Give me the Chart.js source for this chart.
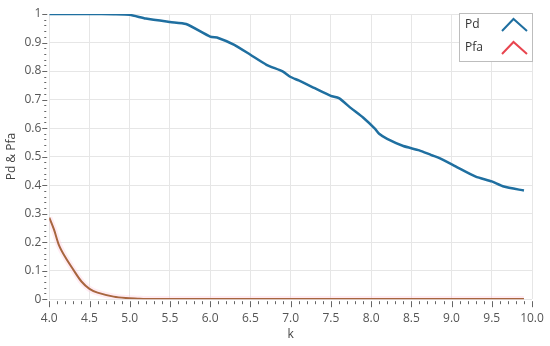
<!DOCTYPE html>
<html lang="en">
<head>
    <meta charset="UTF-8">
    <title>Pd & Pfa</title>
    <style type="text/css">
        body { margin: 0; background: #ffffff; }
        .wrap { width: 550px; height: 346px; }
    </style>
</head>
<body>
    <div class="wrap">
        <canvas id="myChart" width="550" height="346"></canvas>
    </div>

    <script src="https://cdn.jsdelivr.net/npm/chart.js"></script>
    <script>
        // values
        const pdK   = [4.0, 4.5, 4.8, 5.0, 5.2, 5.5, 5.7, 6.0, 6.1, 6.3, 6.5, 6.7, 6.9, 7.0, 7.1, 7.3, 7.5, 7.6, 7.75, 7.9, 8.05, 8.1, 8.2, 8.4, 8.6, 8.75, 8.85, 9.05, 9.3, 9.5, 9.65, 9.9];
        const pdVal = [1.0, 1.0, 0.999, 0.997, 0.984, 0.972, 0.965, 0.921, 0.916, 0.892, 0.857, 0.822, 0.799, 0.779, 0.767, 0.740, 0.713, 0.705, 0.670, 0.637, 0.597, 0.580, 0.562, 0.537, 0.522, 0.505, 0.495, 0.466, 0.430, 0.413, 0.395, 0.381];

        const pfaK   = [4.0, 4.06, 4.12, 4.2, 4.3, 4.4, 4.5, 4.6, 4.8, 4.95, 5.1, 5.2, 6.0, 7.0, 8.0, 9.0, 9.9];
        const pfaVal = [0.286, 0.243, 0.19, 0.147, 0.103, 0.062, 0.036, 0.023, 0.009, 0.004, 0.002, 0.001, 0.001, 0.001, 0.001, 0.001, 0.001];

        const seriesNames = ['Pd', 'Pfa'];
        const legendColors = ['#1f6fa0', '#e8454f'];

        function toPoints(xs, ys) {
            return xs.map((x, i) => ({ x: x, y: ys[i] }));
        }

        // minor ticks and the legend box
        const extrasPlugin = {
            id: 'extras',
            afterDraw(chart) {
                const ctx = chart.ctx;
                const xs = chart.scales.x;
                const ys = chart.scales.y;
                const area = chart.chartArea;
                ctx.save();
                ctx.strokeStyle = '#666';
                ctx.lineWidth = 1;
                // x minor ticks every 0.1
                for (let i = 0; i <= 60; i++) {
                    const px = Math.round(xs.getPixelForValue(4 + i / 10)) + 0.5;
                    const len = (i % 5 === 0) ? 6 : 3;
                    ctx.beginPath();
                    ctx.moveTo(px, area.bottom + 2);
                    ctx.lineTo(px, area.bottom + 2 + len);
                    ctx.stroke();
                }
                // y minor ticks every 0.02
                for (let i = 0; i <= 50; i++) {
                    const py = Math.round(ys.getPixelForValue(i / 50)) + 0.5;
                    const major = (i % 5 === 0);
                    ctx.beginPath();
                    ctx.moveTo(area.left - (major ? 7 : 5), py);
                    ctx.lineTo(area.left - (major ? 2 : 3), py);
                    ctx.stroke();
                }

                // legend box
                const bx = area.right - 73, by = area.top - 1, bw = 74, bh = 49;
                ctx.fillStyle = '#ffffff';
                ctx.fillRect(bx, by, bw, bh);
                ctx.strokeStyle = '#bdbdbd';
                ctx.strokeRect(bx + 0.5, by + 0.5, bw - 1, bh - 1);
                ctx.font = '12px "Open Sans", sans-serif';
                ctx.textBaseline = 'middle';
                ctx.textAlign = 'left';
                seriesNames.forEach((name, i) => {
                    const cy = by + 12 + i * 23;
                    ctx.fillStyle = '#333';
                    ctx.fillText(name, bx + 6, cy);
                    ctx.strokeStyle = legendColors[i];
                    ctx.lineWidth = 2;
                    ctx.beginPath();
                    ctx.moveTo(bx + 43, cy + 6);
                    ctx.lineTo(bx + 54.5, cy - 6);
                    ctx.lineTo(bx + 68, cy + 6);
                    ctx.stroke();
                });
                ctx.restore();
            }
        };

        const config = {
            type: 'line',
            data: {
                datasets: [{
                    label: 'Pfa band',
                    data: toPoints(pfaK, pfaVal),
                    borderColor: 'rgba(255, 200, 220, 0.35)',
                    borderWidth: 6,
                    pointRadius: 0,
                    tension: 0.3,
                    order: 3
                }, {
                    label: seriesNames[1],
                    data: toPoints(pfaK, pfaVal),
                    borderColor: '#a8663f',
                    borderWidth: 2,
                    pointRadius: 0,
                    tension: 0.3,
                    order: 2
                }, {
                    label: seriesNames[0],
                    data: toPoints(pdK, pdVal),
                    borderColor: '#1f6fa0',
                    borderWidth: 2.5,
                    pointRadius: 0,
                    tension: 0.2,
                    order: 1
                }]
            },
            options: {
                responsive: false,
                animation: false,
                layout: {
                    padding: { left: 4, right: 18, top: 14, bottom: 4 }
                },
                scales: {
                    x: {
                        type: 'linear',
                        min: 4,
                        max: 10,
                        border: { display: false },
                        // invisible tick marks keep the labels clear of the minor ticks
                        grid: { color: '#e6e6e6', drawTicks: true, tickLength: 12, tickColor: 'rgba(0,0,0,0)' },
                        ticks: {
                            stepSize: 0.5,
                            padding: 0,
                            color: '#555',
                            font: { family: '"Open Sans", sans-serif', size: 12 },
                            callback: (v) => v.toFixed(1)
                        },
                        title: {
                            display: true,
                            text: 'k',
                            color: '#444',
                            padding: { top: 2, bottom: 0 },
                            font: { family: '"Open Sans", sans-serif', size: 12 }
                        }
                    },
                    y: {
                        min: 0,
                        max: 1,
                        border: { display: false },
                        grid: { color: '#e6e6e6', drawTicks: true, tickLength: 8, tickColor: 'rgba(0,0,0,0)' },
                        ticks: {
                            stepSize: 0.1,
                            padding: 0,
                            color: '#555',
                            font: { family: '"Open Sans", sans-serif', size: 12 },
                            callback: (v) => String(Number(v.toFixed(1)))
                        },
                        title: {
                            display: true,
                            text: 'Pd & Pfa',
                            color: '#444',
                            padding: { top: 0, bottom: 6 },
                            font: { family: '"Open Sans", sans-serif', size: 12 }
                        }
                    }
                },
                plugins: {
                    legend: { display: false },
                    tooltip: { enabled: false }
                }
            },
            plugins: [extrasPlugin]
        };

        const myChart = new Chart(document.getElementById('myChart'), config);
    </script>
</body>
</html>
